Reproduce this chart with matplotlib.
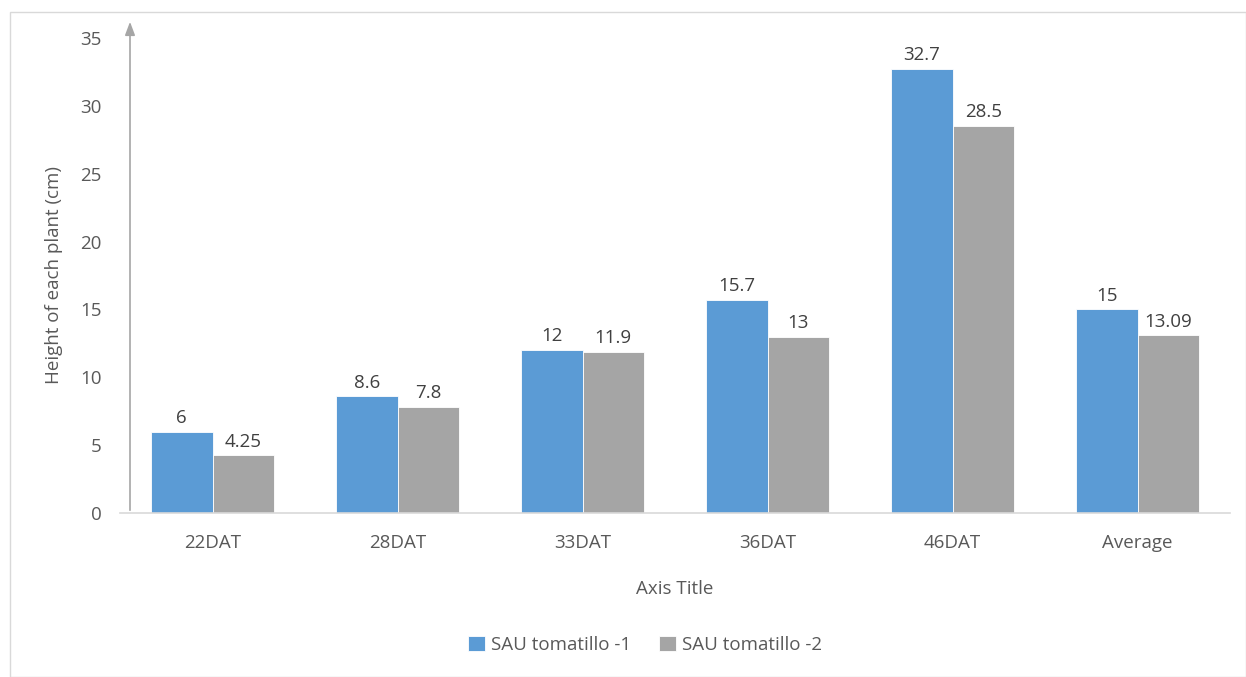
import matplotlib
matplotlib.use("Agg")
import matplotlib.pyplot as plt
import numpy as np
from matplotlib.patches import Rectangle

categories = ["22DAT", "28DAT", "33DAT", "36DAT", "46DAT", "Average"]
series1_name = "SAU tomatillo -1"
series2_name = "SAU tomatillo -2"
series1 = [6, 8.6, 12, 15.7, 32.7, 15]
series2 = [4.25, 7.8, 11.9, 13, 28.5, 13.09]
labels1 = ["6", "8.6", "12", "15.7", "32.7", "15"]
labels2 = ["4.25", "7.8", "11.9", "13", "28.5", "13.09"]
yticks = [0, 5, 10, 15, 20, 25, 30, 35]

plt.rcParams['font.family'] = ['Open Sans', 'DejaVu Sans']
txt = '#595959'
fs = 13.5

fig = plt.figure(figsize=(12.46, 6.77), dpi=100)
fig.patches.append(Rectangle((10/1246, 0.0), 1 - 10/1246, 1 - 12/677, transform=fig.transFigure,
                             fill=False, edgecolor='#D9D9D9', linewidth=1.0))
ax = fig.add_axes([120/1246, 1 - 513/677, 1110/1246, (513 - 38)/677])

x = np.arange(len(categories))
w = 0.333
ax.bar(x - w/2, series1, w, color='#5B9BD5', edgecolor='white', linewidth=0.6,
       label=series1_name, zorder=2)
ax.bar(x + w/2, series2, w, color='#A5A5A5', edgecolor='white', linewidth=0.6,
       label=series2_name, zorder=2)

for xi, v, l in zip(x, series1, labels1):
    ax.text(xi - w/2, v + 0.35, l, ha='center', va='bottom', fontsize=fs, color='#404040')
for xi, v, l in zip(x, series2, labels2):
    ax.text(xi + w/2, v + 0.35, l, ha='center', va='bottom', fontsize=fs, color='#404040')

ax.set_xlim(-0.5, len(categories) - 0.5)
ax.set_ylim(0, 35)
ax.set_yticks(yticks)
ax.set_xticks(x)
ax.set_xticklabels(categories)
ax.tick_params(axis='both', length=0, labelsize=fs, colors=txt)
ax.tick_params(axis='y', pad=13)
ax.tick_params(axis='x', pad=15)
for s in ['top', 'right', 'left']:
    ax.spines[s].set_visible(False)
ax.spines['bottom'].set_color('#D9D9D9')
ax.spines['bottom'].set_linewidth(1.2)

# y axis arrow
x0 = 10/1110
ax.annotate('', xy=(x0, 1.04), xytext=(x0, 0.0), xycoords='axes fraction',
            arrowprops=dict(arrowstyle='-|>,head_width=0.3,head_length=0.8',
                            color='#A6A6A6', lw=1.2), annotation_clip=False)

ax.set_ylabel('Height of each plant (cm)', fontsize=fs, color=txt)
ax.yaxis.set_label_coords(-57/1110, 0.5)
ax.set_xlabel('Axis Title', fontsize=fs, color=txt)
ax.xaxis.set_label_coords(0.5, -67/475)

fig.legend(loc='center', bbox_to_anchor=(645/1246, 1 - 645/677), ncol=2, frameon=False,
           fontsize=fs, labelcolor=txt, handlelength=0.9, handleheight=0.9,
           handletextpad=0.3, columnspacing=1.5)

fig.savefig('out.png', dpi=100)
